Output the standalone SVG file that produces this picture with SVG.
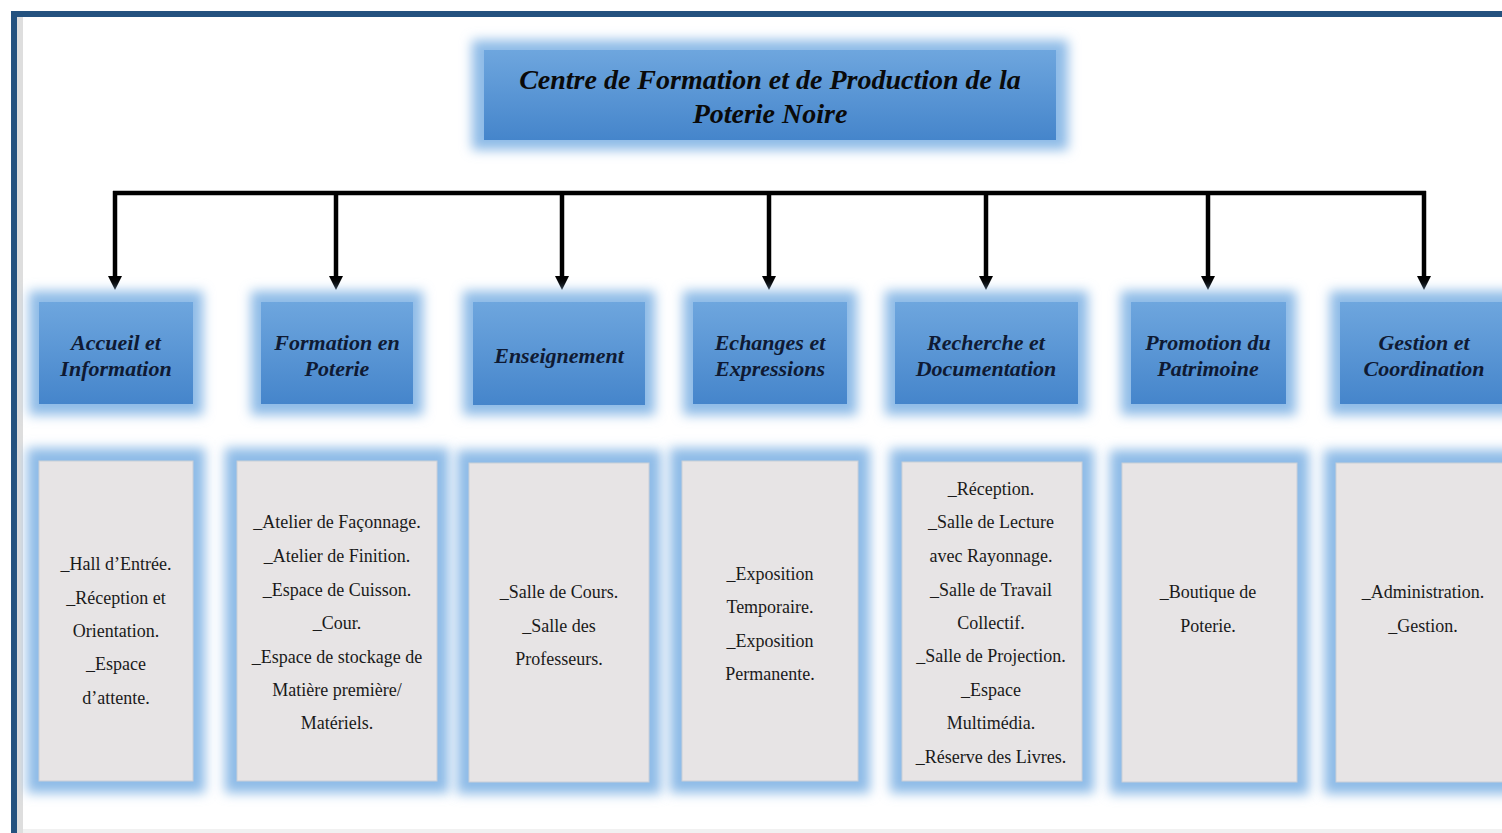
<svg xmlns="http://www.w3.org/2000/svg" width="1502" height="833" viewBox="0 0 1502 833">
<defs>
<linearGradient id="hg" x1="0" y1="0" x2="0" y2="1">
<stop offset="0" stop-color="#6ea6de"/>
<stop offset="1" stop-color="#4585cb"/>
</linearGradient>
<filter id="blur" x="-30%" y="-30%" width="160%" height="160%">
<feGaussianBlur stdDeviation="6"/>
</filter>
<marker id="arr" viewBox="0 0 14 14" markerWidth="14" markerHeight="14" refX="0" refY="7" orient="auto" markerUnits="userSpaceOnUse">
<path d="M0,0 L14,7 L0,14 Z" fill="#000"/>
</marker>
<style>
.glow{fill:#8ebbe7;filter:url(#blur)}
.hbox{fill:url(#hg)}
.cbox{fill:#e7e4e5;stroke:#c9cfd8;stroke-width:1}
.ht{font-family:"Liberation Serif",serif;font-weight:bold;font-style:italic;font-size:22px;fill:#0f1a33;text-anchor:middle}
.tt{font-family:"Liberation Serif",serif;font-weight:bold;font-style:italic;font-size:28px;fill:#0a0a0a;text-anchor:middle}
.ct{font-family:"Liberation Serif",serif;font-size:18px;fill:#1a1a1a;text-anchor:middle}
.con{stroke:#000;stroke-width:4.5;fill:none}
</style>
</defs>
<rect x="0" y="0" width="1502" height="833" fill="#ffffff"/>
<rect x="17" y="17" width="6" height="816" fill="#dedede"/>
<rect x="23" y="829" width="1479" height="4" fill="#f1f1f1"/>
<rect x="11" y="11" width="1491" height="6" fill="#24527f"/>
<rect x="11" y="11" width="6" height="822" fill="#24527f"/>

<g id="title">
<rect class="glow" x="472" y="40" width="596" height="110"/>
<rect class="hbox" x="484" y="50" width="572" height="90"/>
<text class="tt" x="770" y="89">Centre de Formation et de Production de la</text>
<text class="tt" x="770" y="123">Poterie Noire</text>
</g>

<g id="connectors">
<path class="con" d="M113,193 H1426"/>
<path class="con" d="M115,191 V276" marker-end="url(#arr)"/>
<path class="con" d="M336,193 V276" marker-end="url(#arr)"/>
<path class="con" d="M562,193 V276" marker-end="url(#arr)"/>
<path class="con" d="M769,193 V276" marker-end="url(#arr)"/>
<path class="con" d="M986,193 V276" marker-end="url(#arr)"/>
<path class="con" d="M1208,193 V276" marker-end="url(#arr)"/>
<path class="con" d="M1424,191 V276" marker-end="url(#arr)"/>
</g>

<g id="h1">
<rect class="glow" x="29" y="291" width="174" height="124"/>
<rect class="hbox" x="39" y="302" width="154" height="102"/>
<text class="ht" x="116" y="350">Accueil et</text>
<text class="ht" x="116" y="376">Information</text>
</g>
<g id="h2">
<rect class="glow" x="251" y="291" width="172" height="124"/>
<rect class="hbox" x="261" y="302" width="152" height="102"/>
<text class="ht" x="337" y="350">Formation en</text>
<text class="ht" x="337" y="376">Poterie</text>
</g>
<g id="h3">
<rect class="glow" x="463" y="291" width="192" height="124"/>
<rect class="hbox" x="473" y="302" width="172" height="103"/>
<text class="ht" x="559" y="363">Enseignement</text>
</g>
<g id="h4">
<rect class="glow" x="683" y="291" width="174" height="124"/>
<rect class="hbox" x="693" y="302" width="154" height="102"/>
<text class="ht" x="770" y="350">Echanges et</text>
<text class="ht" x="770" y="376">Expressions</text>
</g>
<g id="h5">
<rect class="glow" x="885" y="291" width="203" height="124"/>
<rect class="hbox" x="895" y="302" width="183" height="102"/>
<text class="ht" x="986" y="350">Recherche et</text>
<text class="ht" x="986" y="376">Documentation</text>
</g>
<g id="h6">
<rect class="glow" x="1121" y="291" width="175" height="124"/>
<rect class="hbox" x="1131" y="302" width="155" height="102"/>
<text class="ht" x="1208" y="350">Promotion du</text>
<text class="ht" x="1208" y="376">Patrimoine</text>
</g>
<g id="h7">
<rect class="glow" x="1330" y="291" width="200" height="124"/>
<rect class="hbox" x="1340" y="302" width="180" height="102"/>
<text class="ht" x="1424" y="350">Gestion et</text>
<text class="ht" x="1424" y="376">Coordination</text>
</g>

<g id="c1">
<rect class="glow" x="27" y="448" width="178" height="345"/>
<rect class="cbox" x="39" y="461" width="154" height="320"/>
<text class="ct" x="116" y="570">_Hall d’Entrée.</text>
<text class="ct" x="116" y="604">_Réception et</text>
<text class="ct" x="116" y="637">Orientation.</text>
<text class="ct" x="116" y="670">_Espace</text>
<text class="ct" x="116" y="704">d’attente.</text>
</g>
<g id="c2">
<rect class="glow" x="225" y="448" width="224" height="345"/>
<rect class="cbox" x="237" y="461" width="200" height="320"/>
<text class="ct" x="337" y="528">_Atelier de Façonnage.</text>
<text class="ct" x="337" y="562">_Atelier de Finition.</text>
<text class="ct" x="337" y="596">_Espace de Cuisson.</text>
<text class="ct" x="337" y="629">_Cour.</text>
<text class="ct" x="337" y="663">_Espace de stockage de</text>
<text class="ct" x="337" y="696">Matière première/</text>
<text class="ct" x="337" y="729">Matériels.</text>
</g>
<g id="c3">
<rect class="glow" x="457" y="450" width="204" height="344"/>
<rect class="cbox" x="469" y="463" width="180" height="319"/>
<text class="ct" x="559" y="598">_Salle de Cours.</text>
<text class="ct" x="559" y="632">_Salle des</text>
<text class="ct" x="559" y="665">Professeurs.</text>
</g>
<g id="c4">
<rect class="glow" x="670" y="448" width="200" height="345"/>
<rect class="cbox" x="682" y="461" width="176" height="320"/>
<text class="ct" x="770" y="580">_Exposition</text>
<text class="ct" x="770" y="613">Temporaire.</text>
<text class="ct" x="770" y="647">_Exposition</text>
<text class="ct" x="770" y="680">Permanente.</text>
</g>
<g id="c5">
<rect class="glow" x="890" y="449" width="204" height="344"/>
<rect class="cbox" x="902" y="462" width="180" height="319"/>
<text class="ct" x="991" y="495">_Réception.</text>
<text class="ct" x="991" y="528">_Salle de Lecture</text>
<text class="ct" x="991" y="562">avec Rayonnage.</text>
<text class="ct" x="991" y="596">_Salle de Travail</text>
<text class="ct" x="991" y="629">Collectif.</text>
<text class="ct" x="991" y="662">_Salle de Projection.</text>
<text class="ct" x="991" y="696">_Espace</text>
<text class="ct" x="991" y="729">Multimédia.</text>
<text class="ct" x="991" y="763">_Réserve des Livres.</text>
</g>
<g id="c6">
<rect class="glow" x="1110" y="450" width="199" height="344"/>
<rect class="cbox" x="1122" y="463" width="175" height="319"/>
<text class="ct" x="1208" y="598">_Boutique de</text>
<text class="ct" x="1208" y="632">Poterie.</text>
</g>
<g id="c7">
<rect class="glow" x="1324" y="450" width="200" height="344"/>
<rect class="cbox" x="1336" y="463" width="180" height="319"/>
<text class="ct" x="1423" y="598">_Administration.</text>
<text class="ct" x="1423" y="632">_Gestion.</text>
</g>
</svg>
